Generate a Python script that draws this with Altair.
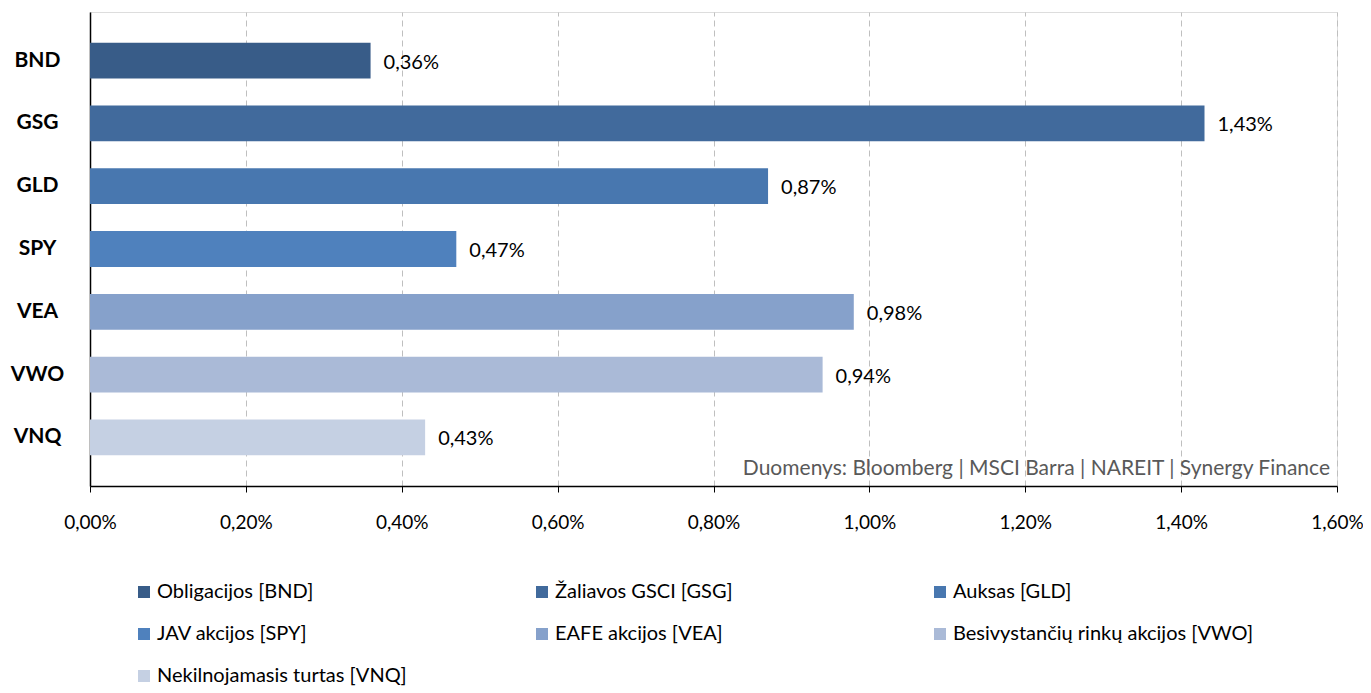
import altair as alt
import pandas as pd

tickers = ["BND", "GSG", "GLD", "SPY", "VEA", "VWO", "VNQ"]
names = ["Obligacijos [BND]", "Žaliavos GSCI [GSG]", "Auksas [GLD]",
         "JAV akcijos [SPY]", "EAFE akcijos [VEA]",
         "Besivystančių rinkų akcijos [VWO]", "Nekilnojamasis  turtas [VNQ]"]
values = [0.36, 1.43, 0.87, 0.47, 0.98, 0.94, 0.43]
colors = ["#385C88", "#416A9C", "#4877AF", "#4F81BD", "#86A1CB", "#AABAD7", "#C5D0E3"]
x_ticks = [0, 0.2, 0.4, 0.6, 0.8, 1.0, 1.2, 1.4, 1.6]
source = "Duomenys: Bloomberg  |  MSCI Barra  |  NAREIT  |  Synergy Finance"

df = pd.DataFrame({
    "ticker": tickers,
    "name": names,
    "value": values,
    "label": [f"{v:.2f}".replace(".", ",") + "%" for v in values],
})

FONT = "Lato"
FS = 20

x_enc = alt.X("value:Q",
              scale=alt.Scale(domain=[0, 1.6], nice=False),
              axis=alt.Axis(values=x_ticks, title=None,
                            labelExpr="replace(format(datum.value, '.2f'), '.', ',') + '%'",
                            labelFont=FONT, labelFontSize=19, labelColor="#000",
                            labelFlush=False, labelOverlap=False,
                            labelPadding=21, tickSize=6, tickColor="#000",
                            domainColor="#000", domainWidth=1.5,
                            grid=True, gridColor="#BFBFBF", gridDash=[6, 4], gridWidth=1))
y_enc = alt.Y("ticker:N", sort=tickers,
              scale=alt.Scale(paddingInner=0.43, paddingOuter=0.49),
              axis=alt.Axis(title=None, labelFont=FONT, labelFontSize=21,
                            labelFontWeight="bold", labelColor="#000",
                            labelAlign="center", labelPadding=53, ticks=False,
                            domainColor="#000", domainWidth=1.5))

bars = alt.Chart(df).mark_bar().encode(
    x=x_enc,
    y=y_enc,
    color=alt.Color("name:N", sort=names,
                    scale=alt.Scale(domain=names, range=colors),
                    legend=alt.Legend(title=None, orient="none", legendX=44, legendY=570,
                                      direction="horizontal", columns=3,
                                      gridAlign="all", columnPadding=74, rowPadding=22,
                                      symbolType="square", symbolSize=144,
                                      symbolStrokeWidth=0, labelOffset=3,
                                      labelFont=FONT, labelFontSize=FS, labelColor="#000",
                                      padding=0, labelLimit=400)),
)

labels = alt.Chart(df).mark_text(align="left", baseline="middle", dx=13, dy=2,
                                 font=FONT, fontSize=FS, color="#000").encode(
    x="value:Q", y=alt.Y("ticker:N", sort=tickers), text="label:N")

src = alt.Chart(pd.DataFrame({"t": [source]})).mark_text(
    align="right", baseline="middle", font=FONT, fontSize=21, color="#595959").encode(
    x=alt.value(1240), y=alt.value(457), text="t:N")

chart = alt.layer(bars, labels, src).properties(
    width=1247, height=474,
    autosize=alt.AutoSizeParams(type="none"),
    padding={"left": 82, "top": 4, "right": 26, "bottom": 205},
).configure_view(stroke="#000", strokeWidth=1.5).configure(background="white")

chart.save("out.html", embed_options={"renderer": "svg", "actions": False})
